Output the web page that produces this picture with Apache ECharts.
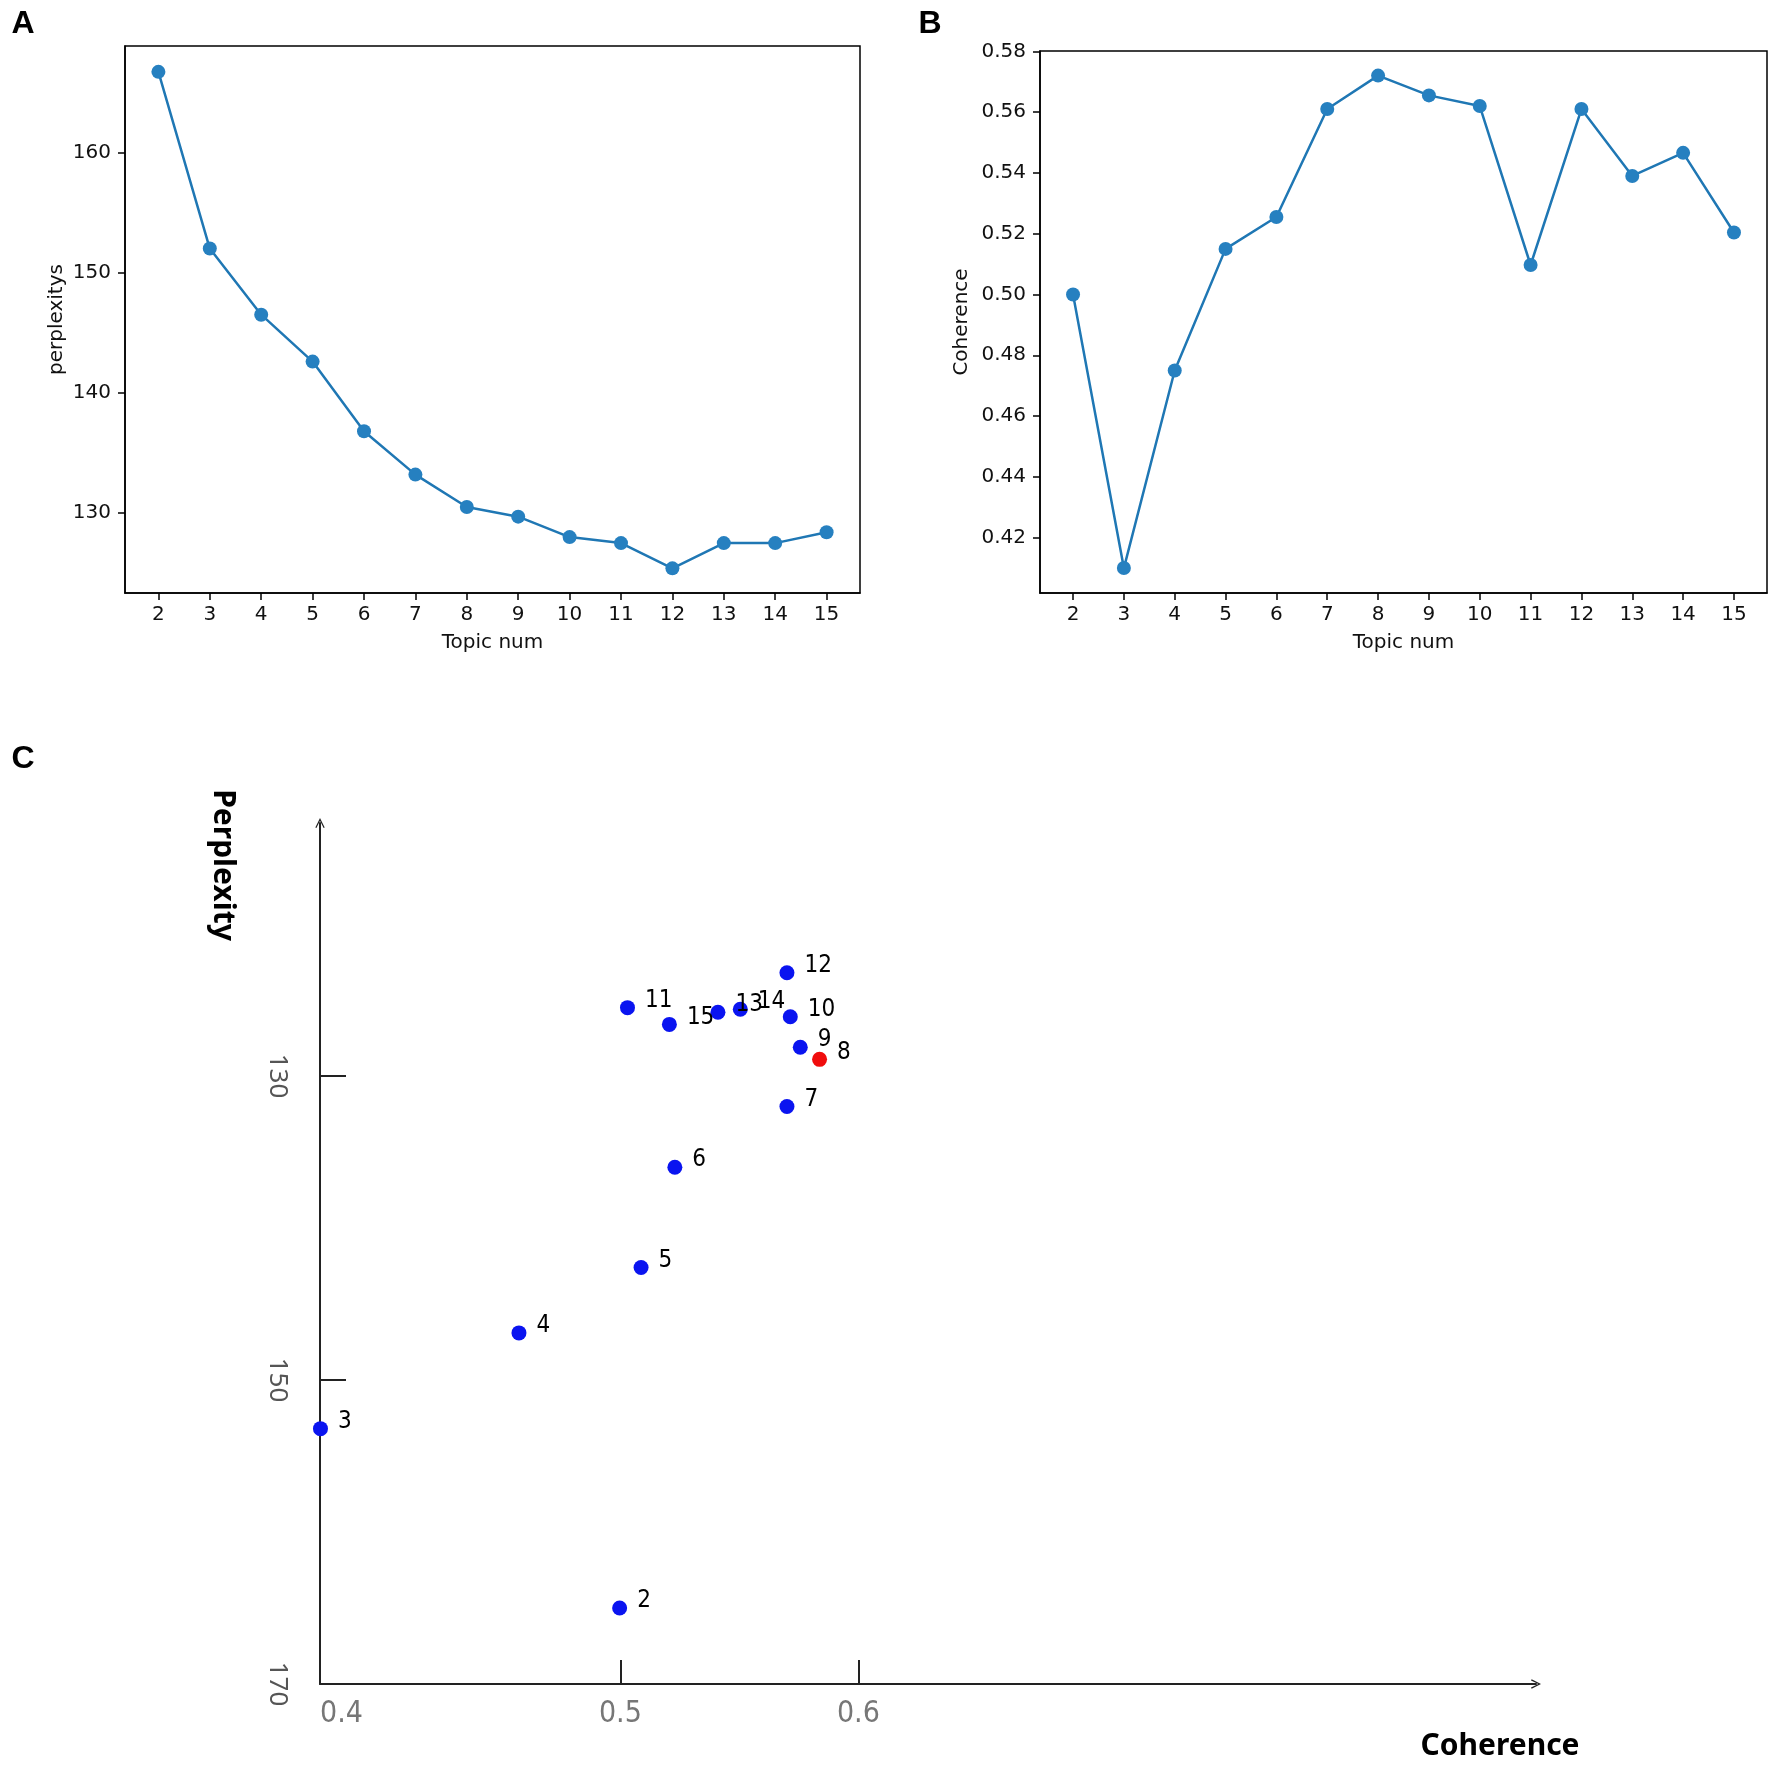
<!DOCTYPE html>
<html>
<head>
<meta charset="utf-8">
<script src="https://cdn.jsdelivr.net/npm/echarts@6/dist/echarts.min.js"></script>
<style>
html, body { margin: 0; padding: 0; background: #fff; }
#main { width: 1772px; height: 1768px; }
</style>
</head>
<body>
<div id="main"></div>
<script>
// Panels A and B: scores per number of topics
const topicNum = [2, 3, 4, 5, 6, 7, 8, 9, 10, 11, 12, 13, 14, 15];
const perplexitys = [166.7, 152.0, 146.5, 142.6, 136.8, 133.2, 130.5, 129.7, 128.0, 127.5, 125.4, 127.5, 127.5, 128.4];
const coherence = [0.500, 0.410, 0.475, 0.515, 0.5255, 0.561, 0.572, 0.5655, 0.562, 0.5097, 0.561, 0.539, 0.5466, 0.5204];
const perplexityTicks = [130, 140, 150, 160];
const coherenceTicks = [0.42, 0.44, 0.46, 0.48, 0.50, 0.52, 0.54, 0.56, 0.58];

// Panel C: positions read against the map's own axes
const mapTopic = [2, 3, 4, 5, 6, 7, 8, 9, 10, 11, 12, 13, 14, 15];
const mapCoherence = [0.4997, 0.374, 0.4574, 0.5087, 0.5229, 0.570, 0.5837, 0.5756, 0.5714, 0.503, 0.570, 0.541, 0.5504, 0.5206];
const mapPerplexity = [165.0, 153.2, 146.9, 142.6, 136.0, 132.0, 128.9, 128.1, 126.1, 125.5, 123.2, 125.8, 125.6, 126.6];
const mapXMin = 0.3738; // axis origin, labelled 0.4 in the figure
const mapXTicks = [0.5, 0.6];
const mapYTicks = [130, 150];
const mapYLabels = [130, 150, 170];
const bestTopic = 8;

const chart = echarts.init(document.getElementById('main'), null, { renderer: 'canvas' });

const mpl = 'DejaVu Sans';
const arrowPath = 'path://M0,12 L6,0 L12,12 L10.6,12.8 L6,3.4 L1.4,12.8 Z';

function lineAxisX(gridIndex) {
    return {
        type: 'value', gridIndex: gridIndex, min: 1.35, max: 15.65,
        name: 'Topic num', nameLocation: 'middle', nameGap: 40,
        nameTextStyle: { fontFamily: mpl, fontSize: 20, color: '#111' },
        axisLine: { show: true, lineStyle: { color: '#000', width: 1.5 } },
        axisTick: { show: true, length: 7, customValues: topicNum, lineStyle: { color: '#000', width: 1.5 } },
        axisLabel: { customValues: topicNum, margin: 12, fontFamily: mpl, fontSize: 20, color: '#111' },
        splitLine: { show: false }
    };
}

const scatterData = mapTopic.map((t, i) => [mapCoherence[i], mapPerplexity[i], t]);

const option = {
    backgroundColor: '#fff',
    animation: false,
    grid: [
        { left: 125, top: 46, width: 735, height: 547, show: true, borderColor: '#000', borderWidth: 1.5, outerBoundsMode: 'none' },
        { left: 1040, top: 51, width: 727, height: 542, show: true, borderColor: '#000', borderWidth: 1.5, outerBoundsMode: 'none' },
        { left: 320, top: 823, width: 1216, height: 861, outerBoundsMode: 'none' }
    ],
    xAxis: [
        lineAxisX(0),
        lineAxisX(1),
        {
            type: 'value', gridIndex: 2, min: mapXMin, max: mapXMin + 1216 / 2380,
            axisLine: { show: true, symbol: ['none', arrowPath], symbolSize: [12, 10], lineStyle: { color: '#222', width: 2 } },
            axisTick: { show: true, inside: true, length: 24, customValues: mapXTicks, lineStyle: { color: '#222', width: 2 } },
            axisLabel: {
                customValues: [mapXMin].concat(mapXTicks), margin: 15, alignMinLabel: 'left',
                formatter: v => v.toFixed(1),
                fontFamily: "'DejaVu Sans Condensed', 'Noto Sans', sans-serif", fontSize: 30, color: '#777'
            },
            splitLine: { show: false }
        }
    ],
    yAxis: [
        {
            type: 'value', gridIndex: 0, min: 123.35, max: 168.85,
            name: 'perplexitys', nameLocation: 'middle', nameGap: 58,
            nameTextStyle: { fontFamily: mpl, fontSize: 20, color: '#111' },
            axisLine: { show: true, lineStyle: { color: '#000', width: 1.5 } },
            axisTick: { show: true, length: 7, customValues: perplexityTicks, lineStyle: { color: '#000', width: 1.5 } },
            axisLabel: { customValues: perplexityTicks, margin: 14, fontFamily: mpl, fontSize: 20, color: '#111' },
            splitLine: { show: false }
        },
        {
            type: 'value', gridIndex: 1, min: 0.4018, max: 0.5801,
            name: 'Coherence', nameLocation: 'middle', nameGap: 68,
            nameTextStyle: { fontFamily: mpl, fontSize: 20, color: '#111' },
            axisLine: { show: true, lineStyle: { color: '#000', width: 1.5 } },
            axisTick: { show: true, length: 7, customValues: coherenceTicks, lineStyle: { color: '#000', width: 1.5 } },
            axisLabel: { customValues: coherenceTicks, margin: 14, formatter: v => v.toFixed(2), fontFamily: mpl, fontSize: 20, color: '#111' },
            splitLine: { show: false }
        },
        {
            type: 'value', gridIndex: 2, min: 113.35, max: 170, inverse: true,
            axisLine: { show: true, symbol: ['none', arrowPath], symbolSize: [12, 10], lineStyle: { color: '#222', width: 2 } },
            axisTick: { show: true, inside: true, length: 26, customValues: mapYTicks, lineStyle: { color: '#222', width: 2 } },
            axisLabel: {
                customValues: mapYLabels, rotate: -90, margin: 30,
                fontFamily: "'Noto Sans', sans-serif", fontSize: 26, color: '#555'
            },
            splitLine: { show: false }
        }
    ],
    graphic: [
        { type: 'text', x: 23, y: 24, style: { text: 'A', font: 'bold 32px "Liberation Sans"', fill: '#000', align: 'center', verticalAlign: 'middle' } },
        { type: 'text', x: 930, y: 24, style: { text: 'B', font: 'bold 32px "Liberation Sans"', fill: '#000', align: 'center', verticalAlign: 'middle' } },
        { type: 'text', x: 23, y: 759, style: { text: 'C', font: 'bold 32px "Liberation Sans"', fill: '#000', align: 'center', verticalAlign: 'middle' } },
        { type: 'text', x: 223, y: 865, rotation: -Math.PI / 2, style: { text: 'Perplexity', font: 'bold 30px "Noto Sans"', fill: '#000', align: 'center', verticalAlign: 'middle' } },
        { type: 'text', x: 1500, y: 1746, style: { text: 'Coherence', font: 'bold 30px "Noto Sans"', fill: '#000', align: 'center', verticalAlign: 'middle' } }
    ],
    series: [
        {
            type: 'line', xAxisIndex: 0, yAxisIndex: 0,
            data: topicNum.map((t, i) => [t, perplexitys[i]]),
            symbol: 'circle', symbolSize: 14,
            lineStyle: { color: '#1f77b4', width: 2.5 },
            itemStyle: { color: '#2680c0' }
        },
        {
            type: 'line', xAxisIndex: 1, yAxisIndex: 1,
            data: topicNum.map((t, i) => [t, coherence[i]]),
            symbol: 'circle', symbolSize: 14,
            lineStyle: { color: '#1f77b4', width: 2.5 },
            itemStyle: { color: '#2680c0' }
        },
        {
            type: 'scatter', xAxisIndex: 2, yAxisIndex: 2, clip: false,
            data: scatterData, symbolSize: 15,
            itemStyle: { opacity: 1, color: p => (p.data[2] === bestTopic ? '#f00d0d' : '#0a14f0') },
            label: {
                show: true, position: 'right', distance: 10, offset: [0, -7],
                formatter: p => String(p.data[2]),
                fontFamily: "'DejaVu Sans Condensed', 'Noto Sans', sans-serif", fontSize: 24, color: '#000'
            }
        }
    ]
};

chart.setOption(option);
</script>
</body>
</html>
